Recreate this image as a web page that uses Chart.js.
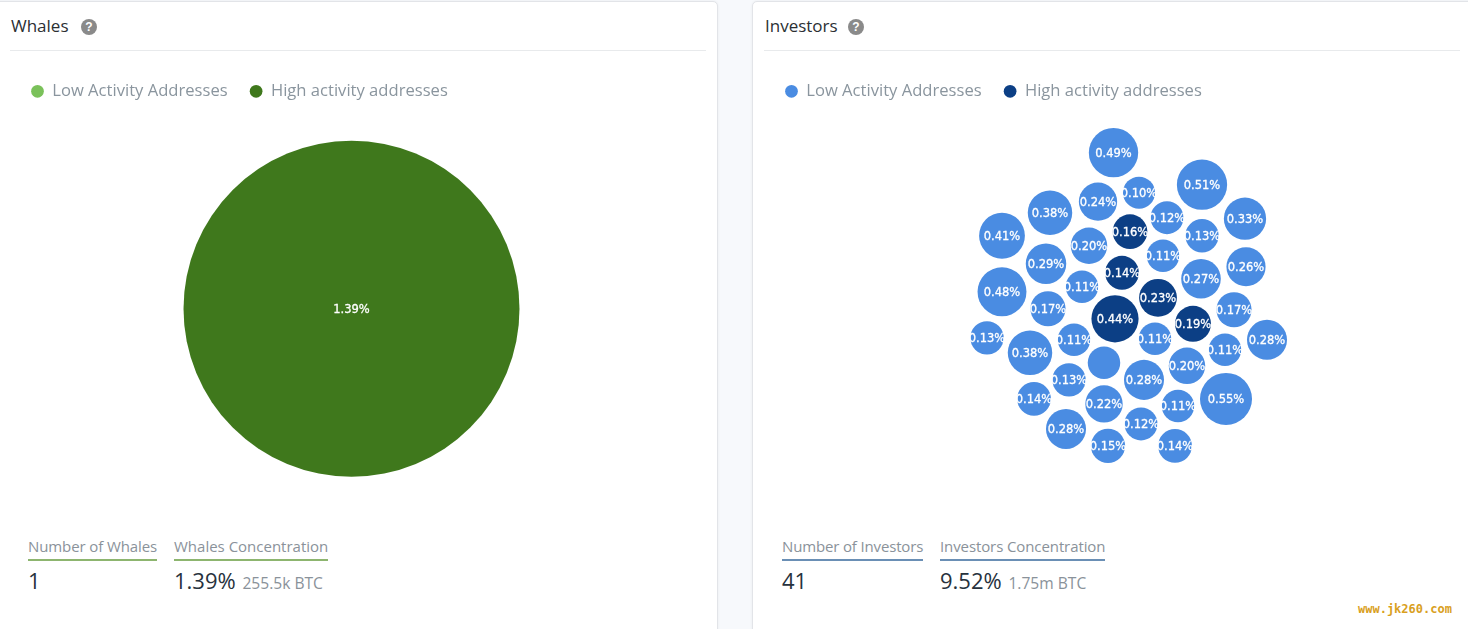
<!DOCTYPE html>
<html>
<head>
<meta charset="utf-8">
<title>Whales and Investors</title>
<script src="https://cdn.jsdelivr.net/npm/chart.js@4"></script>
<style>
    html, body { margin: 0; padding: 0; }
    body { width: 1468px; height: 629px; background: #f7f9fc; overflow: hidden; position: relative; font-family: "Open Sans", sans-serif; }
    .card { position: absolute; top: 1px; height: 640px; background: #fff; border: 1px solid #e2e4e8; border-radius: 5px; box-sizing: border-box; box-shadow: 0 0 3px rgba(0,0,0,0.06); }
    #card-whales { left: -6px; width: 724px; }
    #card-investors { left: 752px; width: 730px; }
    .title { position: absolute; top: 25px; transform: translateY(-50%); font-size: 17px; color: #2b2f33; }
    .help { position: absolute; top: 19px; width: 16px; height: 16px; border-radius: 50%; background: #8a8a8a; color: #fff; font: bold 12px/16px "Liberation Sans", sans-serif; text-align: center; }
    .rule { position: absolute; top: 50px; height: 1px; background: #e8eaec; }
    canvas { position: absolute; top: 61px; }
    .stat { position: absolute; top: 536px; font-size: 15px; line-height: 20px; color: #8a929a; white-space: nowrap; padding-bottom: 3px; border-bottom: 2px solid; letter-spacing: -0.1px; }
    .value { position: absolute; top: 567px; font-size: 22px; line-height: 26px; color: #27323d; white-space: nowrap; }
    .value small { font-size: 15.6px; color: #8a929a; margin-left: 1px; }
    #watermark { position: absolute; left: 1358px; top: 602px; font: bold 12px/14px "DejaVu Sans Mono", monospace; color: #d9a01e; white-space: nowrap; }
</style>
</head>
<body>
<div class="card" id="card-whales"></div>
<div class="card" id="card-investors"></div>

<div class="title" style="left:11px">Whales</div>
<div class="help" style="left:81px">?</div>
<div class="rule" style="left:10px;width:696px"></div>
<div class="title" style="left:765px">Investors</div>
<div class="help" style="left:848px">?</div>
<div class="rule" style="left:764px;width:696px"></div>

<canvas id="whalesChart" width="700" height="450" style="left:9px"></canvas>
<canvas id="investorsChart" width="700" height="450" style="left:763px"></canvas>

<div class="stat" style="left:28px;border-color:#8db56f">Number of Whales</div>
<div class="stat" style="left:174px;border-color:#8db56f;letter-spacing:0">Whales Concentration</div>
<div class="value" style="left:28px">1</div>
<div class="value" style="left:174px">1.39% <small>255.5k BTC</small></div>

<div class="stat" style="left:782px;border-color:#6a8fb5;letter-spacing:-0.15px">Number of Investors</div>
<div class="stat" style="left:940px;border-color:#6a8fb5">Investors Concentration</div>
<div class="value" style="left:782px">41</div>
<div class="value" style="left:940px">9.52% <small>1.75m BTC</small></div>

<div id="watermark">www.jk260.com</div>

<script>
// Legend names
const lowName = 'Low Activity Addresses';
const highName = 'High activity addresses';

// Whales
const whaleX = [351.5];
const whaleY = [308];
const whaleValues = [1.39];

// Investors, low activity (x / y are where the packed layout put each bubble)
const lowX = [1113.5, 1202, 1139, 1098, 1050, 1167, 1245, 1202, 1002, 1089, 1163, 1046, 1246, 1201, 1082, 1002, 1048, 1234, 987, 1074, 1155, 1267, 1225, 1030, 1187, 1104, 1069, 1144, 1226, 1034, 1104, 1178, 1141, 1066, 1108, 1175];
const lowY = [152, 184, 192, 201, 212, 217, 218, 235, 235, 245, 255, 263, 266, 278, 286, 291, 308, 309, 337, 339, 338, 339, 349, 352, 365, 362, 379, 379, 398, 398, 403, 405, 423, 428, 445, 445];
const lowValues = [0.49, 0.51, 0.10, 0.24, 0.38, 0.12, 0.33, 0.13, 0.41, 0.20, 0.11, 0.29, 0.26, 0.27, 0.11, 0.48, 0.17, 0.17, 0.13, 0.11, 0.11, 0.28, 0.11, 0.38, 0.20, 0.11, 0.13, 0.28, 0.55, 0.14, 0.22, 0.11, 0.12, 0.28, 0.15, 0.14];
// this one has no label in the picture
const unlabeledIndex = 25;

// Investors, high activity
const highX = [1130, 1122, 1158, 1115, 1193];
const highY = [231, 272, 297, 318, 323];
const highValues = [0.16, 0.14, 0.23, 0.44, 0.19];

function toPoints(xs, ys, values, radiusOf) {
    return values.map((v, i) => ({ x: xs[i], y: ys[i], r: radiusOf(v), v: v, noLabel: false }));
}

// Draw the percentage inside each bubble
const bubbleLabels = {
    id: 'bubbleLabels',
    afterDatasetsDraw(chart) {
        const ctx = chart.ctx;
        ctx.save();
        ctx.font = '11.5px "DejaVu Sans"';
        ctx.fillStyle = '#fff';
        ctx.strokeStyle = '#fff';
        ctx.lineWidth = 0.3;
        ctx.textAlign = 'center';
        ctx.textBaseline = 'middle';
        chart.data.datasets.forEach((ds, d) => {
            chart.getDatasetMeta(d).data.forEach((el, i) => {
                if (ds.data[i].noLabel) return;
                const text = ds.data[i].v.toFixed(2) + '%';
                ctx.fillText(text, el.x, el.y + 1);
                ctx.strokeText(text, el.x, el.y + 1);
            });
        });
        ctx.restore();
    }
};

function makeBubbleChart(id, datasets, left) {
    return new Chart(document.getElementById(id), {
        type: 'bubble',
        data: { datasets: datasets },
        plugins: [bubbleLabels],
        options: {
            responsive: false,
            animation: false,
            // bubbles must not push the plot in, the big whale bubble would squash it
            layout: { padding: 0, autoPadding: false },
            elements: { point: { borderWidth: 0, hoverBorderWidth: 0 } },
            plugins: {
                tooltip: { enabled: false },
                legend: {
                    position: 'top',
                    align: 'start',
                    labels: {
                        usePointStyle: true,
                        pointStyle: 'circle',
                        boxWidth: 13,
                        boxHeight: 9,
                        padding: 22,
                        color: '#8a959e',
                        font: { family: '"Open Sans"', size: 16.6 }
                    }
                }
            },
            scales: {
                x: { display: false, min: left, max: left + 700 },
                y: { display: false, reverse: true, min: 109, max: 510 }
            }
        }
    });
}

// Whales has a single bubble so it fills the whole plot
makeBubbleChart('whalesChart', [
    { label: lowName, data: [], backgroundColor: '#7ac15a' },
    { label: highName, data: toPoints(whaleX, whaleY, whaleValues, () => 168), backgroundColor: '#3f781c', clip: false }
], 9);

const lowPoints = toPoints(lowX, lowY, lowValues, v => 13.8 + 22.2 * v);
lowPoints[unlabeledIndex].noLabel = true;

makeBubbleChart('investorsChart', [
    { label: lowName, data: lowPoints, backgroundColor: '#4a8ce2', clip: false },
    { label: highName, data: toPoints(highX, highY, highValues, v => 13.8 + 22.2 * v), backgroundColor: '#0c3f85', clip: false }
], 763);
</script>
</body>
</html>
